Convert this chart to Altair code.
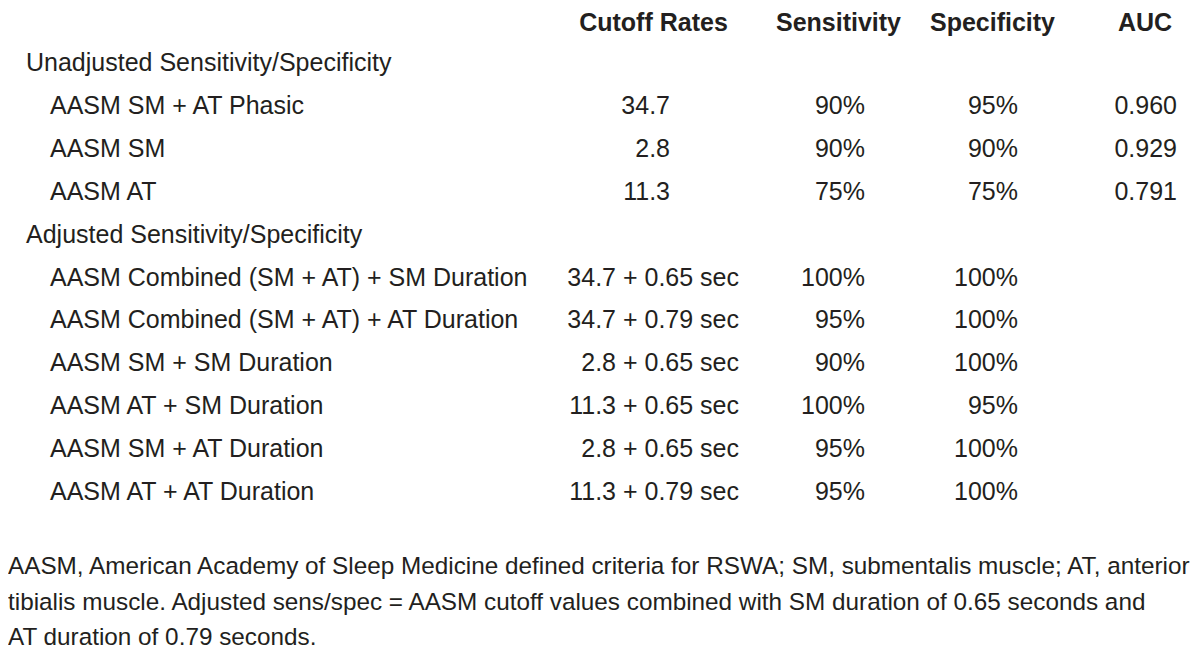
import altair as alt
import pandas as pd

# ---------------- data ----------------
headers = ["Cutoff Rates", "Sensitivity", "Specificity", "AUC"]
group_titles = ["Unadjusted Sensitivity/Specificity", "Adjusted Sensitivity/Specificity"]

unadj_labels = ["AASM SM + AT Phasic", "AASM SM", "AASM AT"]
unadj_cutoff = ["34.7", "2.8", "11.3"]
unadj_sens = ["90%", "90%", "75%"]
unadj_spec = ["95%", "90%", "75%"]
unadj_auc = ["0.960", "0.929", "0.791"]

adj_labels = [
    "AASM Combined (SM + AT) + SM Duration",
    "AASM Combined (SM + AT) + AT Duration",
    "AASM SM + SM Duration",
    "AASM AT + SM Duration",
    "AASM SM + AT Duration",
    "AASM AT + AT Duration",
]
adj_cutoff = ["34.7 + 0.65 sec", "34.7 + 0.79 sec", "2.8 + 0.65 sec",
              "11.3 + 0.65 sec", "2.8 + 0.65 sec", "11.3 + 0.79 sec"]
adj_sens = ["100%", "95%", "90%", "100%", "95%", "95%"]
adj_spec = ["100%", "100%", "100%", "95%", "100%", "100%"]

footnote = [
    "AASM, American Academy of Sleep Medicine defined criteria for RSWA; SM, submentalis muscle; AT, anterior",
    "tibialis muscle. Adjusted sens/spec = AASM cutoff values combined with SM duration of 0.65 seconds and",
    "AT duration of 0.79 seconds.",
]

# ---------------- table (long form) ----------------
cells = []
line = 0
cells.append(dict(line=line, col="group", text=group_titles[0]))
for i, lab in enumerate(unadj_labels):
    line += 1
    cells.append(dict(line=line, col="item", text=lab))
    cells.append(dict(line=line, col="cut_u", text=unadj_cutoff[i]))
    cells.append(dict(line=line, col="sens", text=unadj_sens[i]))
    cells.append(dict(line=line, col="spec", text=unadj_spec[i]))
    cells.append(dict(line=line, col="auc", text=unadj_auc[i]))
line += 1
cells.append(dict(line=line, col="group", text=group_titles[1]))
for i, lab in enumerate(adj_labels):
    line += 1
    cells.append(dict(line=line, col="item", text=lab))
    cells.append(dict(line=line, col="cut_a", text=adj_cutoff[i]))
    cells.append(dict(line=line, col="sens", text=adj_sens[i]))
    cells.append(dict(line=line, col="spec", text=adj_spec[i]))

cells_df = pd.DataFrame(cells)
head_df = pd.DataFrame({"col": headers, "text": headers})
foot_df = pd.DataFrame({"line": list(range(len(footnote))), "text": footnote})

FONT = "Liberation Sans"
COLOR = "#231f20"
SIZE = 25

y_rows = alt.Y("line:Q", scale=alt.Scale(domain=[0, 10], range=[63, 492]), axis=None)

# column anchors (layout): (column key, x anchor, alignment)
body_columns = [
    ("group", 18, "left"),
    ("item", 42, "left"),
    ("cut_u", 662, "right"),
    ("cut_a", 731, "right"),
    ("sens", 857, "right"),
    ("spec", 1010, "right"),
    ("auc", 1169, "right"),
]
header_centers = [645.5, 830.5, 984.5, 1137]

layers = []
base = alt.Chart(cells_df)
for key, xpos, al in body_columns:
    layers.append(
        base.transform_filter(alt.datum.col == key).mark_text(
            align=al, baseline="alphabetic", font=FONT, fontSize=SIZE, color=COLOR
        ).encode(x=alt.value(xpos), y=y_rows, text="text:N")
    )

hbase = alt.Chart(head_df)
for name, xc in zip(headers, header_centers):
    layers.append(
        hbase.transform_filter(alt.datum.col == name).mark_text(
            align="center", baseline="alphabetic", font=FONT, fontSize=SIZE,
            fontWeight="bold", color=COLOR
        ).encode(x=alt.value(xc), y=alt.value(23), text="text:N")
    )

layers.append(
    alt.Chart(foot_df).mark_text(
        align="left", baseline="alphabetic", font=FONT, fontSize=24.3, color=COLOR
    ).encode(
        x=alt.value(0),
        y=alt.Y("line:Q", scale=alt.Scale(domain=[0, 2], range=[566, 637]), axis=None),
        text="text:N",
    )
)

chart = alt.layer(*layers).resolve_scale(y="independent").properties(
    width=1184, height=644, padding=0,
    autosize=alt.AutoSizeParams(type="none"),
    background="white",
).configure_view(strokeWidth=0)

chart.save("out.html", embed_options={"renderer": "svg", "actions": False})
